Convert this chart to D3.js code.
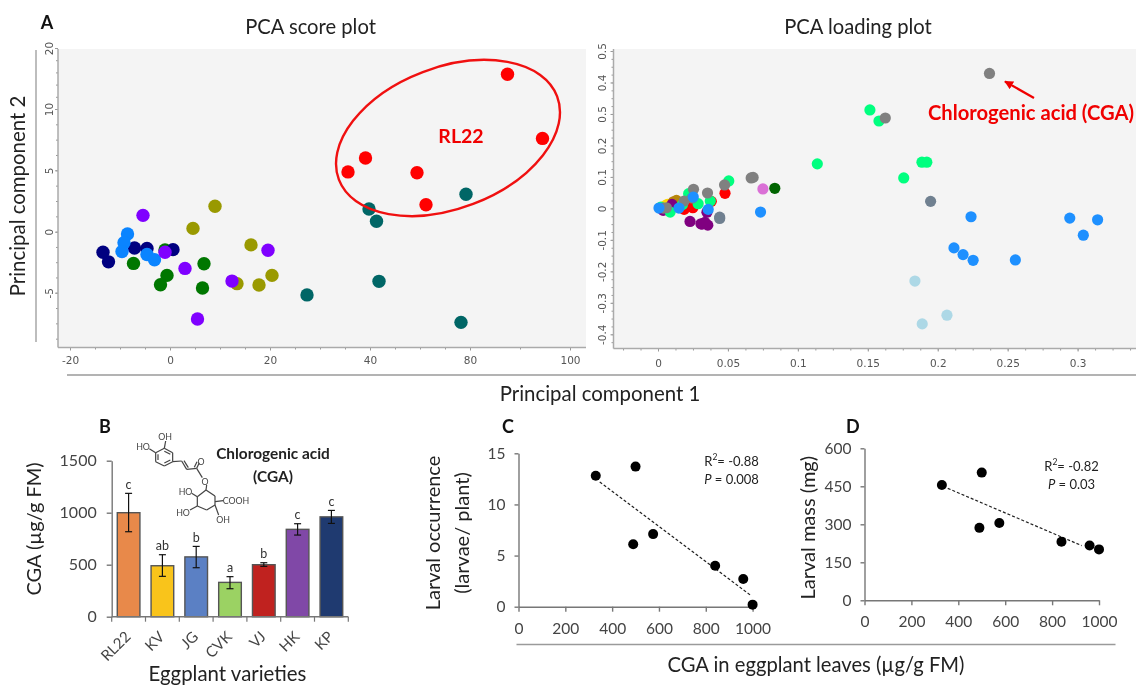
<!DOCTYPE html>
<html>
<head>
    <title>PCA and CGA panels</title>
    <meta http-equiv="content-type" content="text/html; charset=UTF-8">
    <script type="text/javascript" src="https://cdn.jsdelivr.net/npm/d3@7"></script>
</head>
<body style="margin:0;background:#fff">

<style>
    svg { display: block; filter: blur(0.4px); }
    text { font-family: Lato, "Open Sans", sans-serif; fill: #222; }
    .dim text { fill: #444; }
    .pca text { font-family: "DejaVu Sans", sans-serif; font-size: 10.5px; fill: #555; }
    .panel { font-weight: bold; font-size: 18px; fill: #111; }
    .red { fill: #f00000; font-weight: bold; }
</style>

<script type="text/javascript">
    // panel A, score plot: [PC1, PC2] as read against the printed axis labels
    var scoreColors = ["#006666", "#999900", "#007700", "#000080", "#0a84ff", "#7f00ff", "#ff0000"];
    var scoreTeal = [[78.4, 3.05], [39.8, 1.85], [42.6, 0.85], [43.6, -4.07], [27.4, -5.18], [76.4, -7.42]];
    var scoreOlive = [[9, 2.07], [4.6, 0.27], [16.2, -1.08], [20.4, -3.58], [17.8, -4.37], [13.4, -4.26]];
    var scoreGreen = [[-1, -1.5], [-7.3, -2.6], [6.8, -2.63], [-0.6, -3.58], [-1.9, -4.35], [6.5, -4.62]];
    var scoreNavy = [[-13.4, -1.68], [-12.3, -2.47], [-7.1, -1.33], [-4.6, -1.38], [0.6, -1.47]];
    var scoreBlue = [[-8.5, -0.19], [-9.2, -0.9], [-9.6, -1.63], [-4.6, -1.87], [-3.1, -2.3]];
    var scorePurple = [[-5.4, 1.33], [19.6, -1.52], [-1, -1.68], [3, -3.01], [12.4, -4.05], [5.5, -7.14]];
    var scoreRed = [[87.5, 15.7], [94.5, 7.6], [39.1, 6], [35.6, 4.87], [58.8, 4.8], [62.4, 2.2]];
    var scoreXTicks = [-20, 0, 20, 40, 80, 100];
    var scoreYTicks = [-5, 0, 5, 10, 20];

    // panel A, loading plot
    var loadColors = ["#da70d6", "#ffd700", "#b8860b", "#800080", "#ff0000", "#00ff7f", "#808080", "#708090", "#add8e6", "#006400", "#1e90ff"];
    var loadOrchid = [[0.075, 0.0617], [0.0257, 0.017]];
    var loadGold = [[0.0067, 0.0128], [0.005, 0.008]];
    var loadGoldenrod = [[0.0132, 0.0255], [0.011, 0.021]];
    var loadPurple = [[0.0229, -0.0415], [0.0307, -0.0489], [0.0336, -0.0447], [0.0356, -0.0532], [0.01, 0.0128], [0.0037, -0.0064], [0.0315, -0.05], [0.035, -0.012]];
    var loadRed = [[0.0479, 0.0479], [0.0381, 0.0223], [0.0249, 0.0021], [0.0187, -0.0032], [0.022, 0.006]];
    var loadSpring = [[0.1515, 0.3128], [0.158, 0.2777], [0.1139, 0.1415], [0.1887, 0.1468], [0.1922, 0.1468], [0.1757, 0.0968], [0.0506, 0.0872], [0.0219, 0.0468], [0.0287, 0.0149], [0.0087, -0.0117], [0.0374, 0.0234], [0.0175, 0.012], [0.002, 0.004]];
    var loadGray = [[0.237, 0.4287], [0.1625, 0.2872], [0.0666, 0.0968], [0.068, 0.0985], [0.0354, 0.0489], [0.0476, 0.0745], [0.0254, 0.0606], [0.0187, 0.0234], [0.0244, 0.033], [0.0037, 0.001], [0.006, 0.002]];
    var loadSlate = [[0.1949, 0.0223], [0.0441, -0.0319], [0.0441, -0.0277]];
    var loadLight = [[0.1837, -0.2309], [0.2066, -0.3394], [0.1889, -0.367]];
    var loadDark = [[0.0835, 0.0638]];
    var loadBlue = [[0.0733, -0.0117], [0.2238, -0.0266], [0.2944, -0.0309], [0.3143, -0.0362], [0.3041, -0.0851], [0.2116, -0.1255], [0.2181, -0.1468], [0.2253, -0.1649], [0.2555, -0.1638], [0.0359, -0.0032], [0.015, 0.001], [0.0252, 0.036], [0.0007, 0.001]];
    var loadXTicks = [0, 0.05, 0.1, 0.15, 0.2, 0.25, 0.3];
    var loadYTicks = [-0.4, -0.3, -0.2, -0.1, 0, 0.1, 0.2, 0.3, 0.4, 0.5];
    var loadYLabels = ["-0.4", "-0.3", "-0.2", "-0.1", "0", "0.1", "0.2", "0.5", "0.4", "0.5"];

    // panel B
    var varieties = ["RL22", "KV", "JG", "CVK", "VJ", "HK", "KP"];
    var cga = [1000, 490, 575, 330, 500, 840, 960];
    var cgaLow = [817, 388, 471, 269, 484, 785, 897];
    var cgaHigh = [1186, 596, 676, 385, 519, 894, 1022];
    var letters = ["c", "ab", "b", "a", "b", "c", "c"];
    var barColors = ["#e8894a", "#f9c41b", "#5b80c4", "#9bd263", "#c0221f", "#8048a7", "#1f3a70"];

    // panels C and D share the CGA values of panel B
    var occurrence = [0.2, 6.1, 7.1, 12.8, 13.7, 4, 2.7];
    var larvalMass = [201, 286, 305, 455, 504, 231, 216];
    var occurrenceTrend = [[347, 12.2], [990, 1.14]];
    var massTrend = [[355, 442], [926, 216]];

    var svg = d3.select("body").append("svg")
        .attr("width", 1137)
        .attr("height", 686);

    function label(txt, x, y, size, opts) {
        opts = opts || {};
        var t = svg.append("text")
            .attr("text-anchor", opts.anchor || "middle")
            .attr("dominant-baseline", "central")
            .attr("font-size", size)
            .attr("transform", "translate(" + x + "," + y + ")" + (opts.rotate ? " rotate(" + opts.rotate + ")" : ""))
            .text(txt);
        if (opts.cls) t.attr("class", opts.cls);
        if (opts.color) t.style("fill", opts.color);
        return t;
    }

    function rule(x1, y1, x2, y2) {
        svg.append("line").attr("x1", x1).attr("y1", y1).attr("x2", x2).attr("y2", y2)
            .attr("stroke", "#9a9a9a").attr("stroke-width", 1.3);
    }

    function pcaAxes(box, x, y, xTicks, xMinor, yTicks, yMinor, yFmt, xPad, yPad) {
        svg.append("rect")
            .attr("x", box.left).attr("y", box.top)
            .attr("width", box.right - box.left).attr("height", box.bottom - box.top)
            .attr("fill", "#f4f4f4");

        var gx = svg.append("g").attr("class", "pca").attr("transform", "translate(0," + box.bottom + ")");
        gx.call(d3.axisBottom(x).tickValues(xMinor).tickSize(2).tickFormat(""));
        gx.append("g").call(d3.axisBottom(x).tickValues(xTicks).tickSize(3).tickPadding(xPad).tickFormat(String));
        gx.selectAll("path.domain").remove();
        gx.append("line").attr("x1", box.left).attr("x2", box.right).attr("stroke", "#aaa").attr("stroke-width", 1.5);

        var gy = svg.append("g").attr("class", "pca").attr("transform", "translate(" + box.left + ",0)");
        gy.call(d3.axisLeft(y).tickValues(yMinor).tickSize(2).tickFormat(""));
        var major = gy.append("g").call(d3.axisLeft(y).tickValues(yTicks).tickSize(3).tickFormat(yFmt));
        major.selectAll("text")
            .attr("text-anchor", "middle").attr("dy", null).attr("x", null)
            .attr("dominant-baseline", "central")
            .attr("transform", "translate(" + (-yPad) + ",0) rotate(-90)");
        gy.selectAll("path.domain").remove();
        gy.append("line").attr("y1", box.top).attr("y2", box.bottom).attr("stroke", "#aaa").attr("stroke-width", 1.5);
        svg.selectAll(".pca .tick line").attr("stroke", "#999");
    }

    function dots(points, color, r, x, y) {
        svg.append("g").selectAll("circle")
            .data(points)
            .enter().append("circle")
            .attr("cx", function (d) { return x(d[0]); })
            .attr("cy", function (d) { return y(d[1]); })
            .attr("r", r)
            .attr("fill", color);
    }

    // score plot: the printed labels are not evenly spaced in value, hence the piecewise scales
    var scoreBox = {left: 58, right: 586, top: 49, bottom: 347.5};
    var sx = d3.scaleLinear().domain([-20, 0, 20, 40, 80, 100]).range([70, 170, 270, 370, 470, 570]);
    var sy = d3.scaleLinear().domain([-10, -5, 0, 5, 10, 20]).range([354, 292.7, 231.7, 170.3, 109, 48]);
    var sxMinor = d3.range(-15, 40, 5).concat(d3.range(50, 100, 10));
    var syMinor = d3.range(-8.75, 10, 1.25).concat(d3.range(12, 22, 2));
    pcaAxes(scoreBox, sx, sy, scoreXTicks, sxMinor, scoreYTicks, syMinor.filter(function (v) { return sy(v) > scoreBox.top && sy(v) < scoreBox.bottom; }), String, 6, 9);

    [scoreTeal, scoreOlive, scoreGreen, scoreNavy, scoreBlue, scorePurple, scoreRed].forEach(function (s, i) {
        dots(s, scoreColors[i], 6.7, sx, sy);
    });

    svg.append("ellipse")
        .attr("transform", "translate(448,138) rotate(-20.9)")
        .attr("rx", 116.8).attr("ry", 70.6)
        .attr("fill", "none").attr("stroke", "#f01010").attr("stroke-width", 2.4);
    label("RL22", 461, 135, 19.5, {cls: "red"});

    // loading plot
    var loadBox = {left: 613.5, right: 1136, top: 49, bottom: 348.5};
    var lx = d3.scaleLinear().domain([0, 0.3]).range([658, 1077.6]);
    var ly = d3.scaleLinear().domain([-0.4, 0.5]).range([334.3, 51]);
    var lxMinor = d3.range(-3, 38).map(function (v) { return v * 0.0125; }).filter(function (v) { return lx(v) > loadBox.left && lx(v) < loadBox.right; });
    var lyMinor = d3.range(-17, 21).map(function (v) { return v * 0.025; }).filter(function (v) { return ly(v) < loadBox.bottom; });
    pcaAxes(loadBox, lx, ly, loadXTicks, lxMinor, loadYTicks, lyMinor, function (d, i) { return loadYLabels[i]; }, 8, 12);

    [loadOrchid, loadGold, loadGoldenrod, loadPurple, loadRed, loadSpring, loadGray, loadSlate, loadLight, loadDark, loadBlue].forEach(function (s, i) {
        dots(s, loadColors[i], 5.6, lx, ly);
    });

    svg.append("defs").append("marker")
        .attr("id", "head").attr("viewBox", "0 0 10 10").attr("refX", 9).attr("refY", 5)
        .attr("markerWidth", 4).attr("markerHeight", 4).attr("orient", "auto")
        .append("path").attr("d", "M0,0L10,5L0,10z").attr("fill", "#f00000");
    svg.append("line")
        .attr("x1", 1034).attr("y1", 98).attr("x2", 1005).attr("y2", 81.5)
        .attr("stroke", "#f00000").attr("stroke-width", 2.2).attr("marker-end", "url(#head)");
    label("Chlorogenic acid (CGA)", 1031, 111.5, 20.2, {cls: "red"});

    label("A", 47, 22, 18, {cls: "panel"});
    label("PCA score plot", 310.5, 26, 20.2);
    label("PCA loading plot", 858, 26, 20.2);
    label("Principal component 1", 600, 393, 20.4);
    label("Principal component 2", 17, 196, 20.4, {rotate: -90});
    rule(36, 50, 36, 342);
    rule(67, 375, 1136, 375);

    // panel B
    var bx = d3.scaleBand().domain(varieties).range([111.7, 348.3]).paddingInner(0.33).paddingOuter(0.165);
    var by = d3.scaleLinear().domain([0, 1500]).range([616.7, 460.7]);

    var bars = svg.append("g");
    bars.selectAll("rect")
        .data(varieties)
        .enter().append("rect")
        .attr("x", function (d) { return bx(d); })
        .attr("y", function (d, i) { return by(cga[i]); })
        .attr("width", bx.bandwidth())
        .attr("height", function (d, i) { return by(0) - by(cga[i]); })
        .attr("fill", function (d, i) { return barColors[i]; })
        .attr("stroke", "#555").attr("stroke-width", 1.4);

    var errs = svg.append("g").selectAll("g").data(varieties).enter().append("g")
        .attr("transform", function (d) { return "translate(" + (bx(d) + bx.bandwidth() / 2) + ",0)"; })
        .attr("stroke", "#111").attr("stroke-width", 1.2);
    errs.append("line")
        .attr("y1", function (d, i) { return by(cgaLow[i]); })
        .attr("y2", function (d, i) { return by(cgaHigh[i]); });
    errs.append("line").attr("x1", -3.5).attr("x2", 3.5)
        .attr("y1", function (d, i) { return by(cgaLow[i]); })
        .attr("y2", function (d, i) { return by(cgaLow[i]); });
    errs.append("line").attr("x1", -3.5).attr("x2", 3.5)
        .attr("y1", function (d, i) { return by(cgaHigh[i]); })
        .attr("y2", function (d, i) { return by(cgaHigh[i]); });

    svg.append("g").selectAll("text").data(varieties).enter().append("text")
        .attr("x", function (d) { return bx(d) + bx.bandwidth() / 2; })
        .attr("y", function (d, i) { return by(cgaHigh[i]) - 9; })
        .attr("text-anchor", "middle").attr("dominant-baseline", "central")
        .attr("font-size", 12.5).style("fill", "#333")
        .text(function (d, i) { return letters[i]; });

    function plainAxes(x, y, xT, yT) {
        var gx = svg.append("g").attr("class", "dim").attr("transform", "translate(0," + y.range()[0] + ")");
        var gy = svg.append("g").attr("class", "dim").attr("transform", "translate(" + x.range()[0] + ",0)");
        gx.call(d3.axisBottom(x).tickValues(xT).tickSizeInner(5).tickSizeOuter(0).tickPadding(11).tickFormat(String));
        gy.call(d3.axisLeft(y).tickValues(yT).tickSizeInner(4).tickSizeOuter(0).tickPadding(9).tickFormat(String));
        [gx, gy].forEach(function (g) {
            g.selectAll("path,line").attr("stroke", "#777").attr("stroke-width", 1.4);
            g.selectAll("text").attr("font-size", 15.5).attr("font-family", "Lato");
        });
    }

    var gbx = svg.append("g").attr("class", "dim").attr("transform", "translate(0,616.7)");
    gbx.call(d3.axisBottom(bx).tickSize(0).tickPadding(8));
    gbx.selectAll("text")
        .attr("font-size", 15).attr("font-family", "Lato")
        .attr("text-anchor", "end").attr("dy", null).attr("y", null)
        .attr("transform", "translate(3,21) rotate(-45)");
    gbx.select("path.domain").remove();
    gbx.append("line").attr("x1", 111.7).attr("x2", 348.3).attr("stroke", "#777").attr("stroke-width", 1.4);
    gbx.selectAll("line.sep").data(d3.range(8)).enter().append("line").attr("class", "sep")
        .attr("x1", function (d) { return 111.7 + d * bx.step(); })
        .attr("x2", function (d) { return 111.7 + d * bx.step(); })
        .attr("y2", 5).attr("stroke", "#777").attr("stroke-width", 1.2);

    var gby = svg.append("g").attr("class", "dim").attr("transform", "translate(111.7,0)");
    gby.call(d3.axisLeft(by).tickValues([0, 500, 1000, 1500]).tickSizeInner(5).tickSizeOuter(0).tickPadding(10).tickFormat(String));
    gby.selectAll("path,line").attr("stroke", "#777").attr("stroke-width", 1.4);
    gby.selectAll("text").attr("font-size", 16).attr("font-family", "Lato");

    label("B", 105, 425.7, 18, {cls: "panel"});
    label("CGA (µg/g FM)", 33, 529, 20, {rotate: -90});
    label("Eggplant varieties", 227.5, 672.5, 20.4);
    label("Chlorogenic acid", 273, 453, 15.4).style("font-weight", "bold");
    label("(CGA)", 273, 475.5, 15.4).style("font-weight", "bold");

    // chlorogenic acid skeleton, coordinates in the local frame of the sketch
    var mol = svg.append("g").attr("transform", "translate(140,430) scale(0.3333)")
        .attr("stroke", "#444").attr("stroke-width", 3.6).attr("fill", "none");
    var bonds = [[73, 55, 98, 68], [98, 68, 98, 95], [98, 95, 73, 108], [73, 108, 47, 95], [47, 95, 47, 68], [47, 68, 73, 55],
        [73, 64, 91, 73], [91, 90, 73, 99], [54, 90, 54, 73],
        [73, 55, 77, 33], [47, 68, 28, 56], [98, 95, 125, 93], [125, 93, 140, 118], [132, 92, 145, 113], [140, 118, 170, 115],
        [170, 115, 178, 98], [163, 112, 171, 95], [170, 115, 187, 143], [200, 165, 198, 180],
        [198, 180, 225, 198], [225, 198, 225, 225], [225, 225, 200, 240], [200, 240, 172, 228], [172, 228, 172, 200], [172, 200, 198, 180],
        [225, 215, 250, 212], [225, 225, 236, 255], [172, 228, 150, 240], [172, 200, 155, 190]];
    mol.selectAll("line").data(bonds).enter().append("line")
        .attr("x1", function (d) { return d[0]; }).attr("y1", function (d) { return d[1]; })
        .attr("x2", function (d) { return d[2]; }).attr("y2", function (d) { return d[3]; });
    [["OH", 165, 436.5], ["HO", 143, 446.5], ["O", 201, 461.5], ["O", 205, 481.5], ["HO", 185.5, 491], ["COOH", 236, 500.5], ["HO", 183, 512], ["OH", 223, 519.5]].forEach(function (m) {
        label(m[0], m[1], m[2], 8.8, {color: "#444"});
    });

    // panel C
    var cx = d3.scaleLinear().domain([0, 1000]).range([518.5, 752.6]);
    var cy = d3.scaleLinear().domain([0, 15]).range([606.7, 453.3]);
    plainAxes(cx, cy, d3.range(0, 1001, 200), [0, 5, 10, 15]);
    svg.append("line")
        .attr("x1", cx(occurrenceTrend[0][0])).attr("y1", cy(occurrenceTrend[0][1]))
        .attr("x2", cx(occurrenceTrend[1][0])).attr("y2", cy(occurrenceTrend[1][1]))
        .attr("stroke", "#222").attr("stroke-width", 1.2).attr("stroke-dasharray", "3,2");
    svg.append("g").selectAll("circle").data(cga).enter().append("circle")
        .attr("cx", function (d) { return cx(d); })
        .attr("cy", function (d, i) { return cy(occurrence[i]); })
        .attr("r", 5).attr("fill", "#000");

    // panel D
    var dx = d3.scaleLinear().domain([0, 1000]).range([864.5, 1099]);
    var dy = d3.scaleLinear().domain([0, 600]).range([600.3, 448.3]);
    plainAxes(dx, dy, d3.range(0, 1001, 200), [0, 150, 300, 450, 600]);
    svg.append("line")
        .attr("x1", dx(massTrend[0][0])).attr("y1", dy(massTrend[0][1]))
        .attr("x2", dx(massTrend[1][0])).attr("y2", dy(massTrend[1][1]))
        .attr("stroke", "#222").attr("stroke-width", 1.2).attr("stroke-dasharray", "3,2");
    svg.append("g").selectAll("circle").data(cga).enter().append("circle")
        .attr("cx", function (d) { return dx(d); })
        .attr("cy", function (d, i) { return dy(larvalMass[i]); })
        .attr("r", 5).attr("fill", "#000");

    label("C", 508, 425.7, 18, {cls: "panel"});
    label("D", 852.8, 425.7, 18, {cls: "panel"});
    label("Larval occurrence", 432, 533, 20, {rotate: -90});
    label("(larvae/ plant)", 461, 533, 20, {rotate: -90});
    label("Larval mass (mg)", 806.7, 527.7, 20, {rotate: -90});
    rule(516.5, 644.5, 1115.5, 644.5);
    label("CGA in eggplant leaves (µg/g FM)", 816, 664, 20.2);

    function stat(x, y, r2, p) {
        var a = label("", x, y, 13);
        a.append("tspan").text("R");
        a.append("tspan").attr("dy", -4).attr("font-size", 8.5).text("2");
        a.append("tspan").attr("dy", 4).text("= " + r2);
        var b = label("", x, y + 17.5, 13);
        b.append("tspan").attr("font-style", "italic").text("P");
        b.append("tspan").text(" = " + p);
    }
    stat(731.5, 461, "-0.88", "0.008");
    stat(1071.5, 466, "-0.82", "0.03");
</script>
</body>
</html>
